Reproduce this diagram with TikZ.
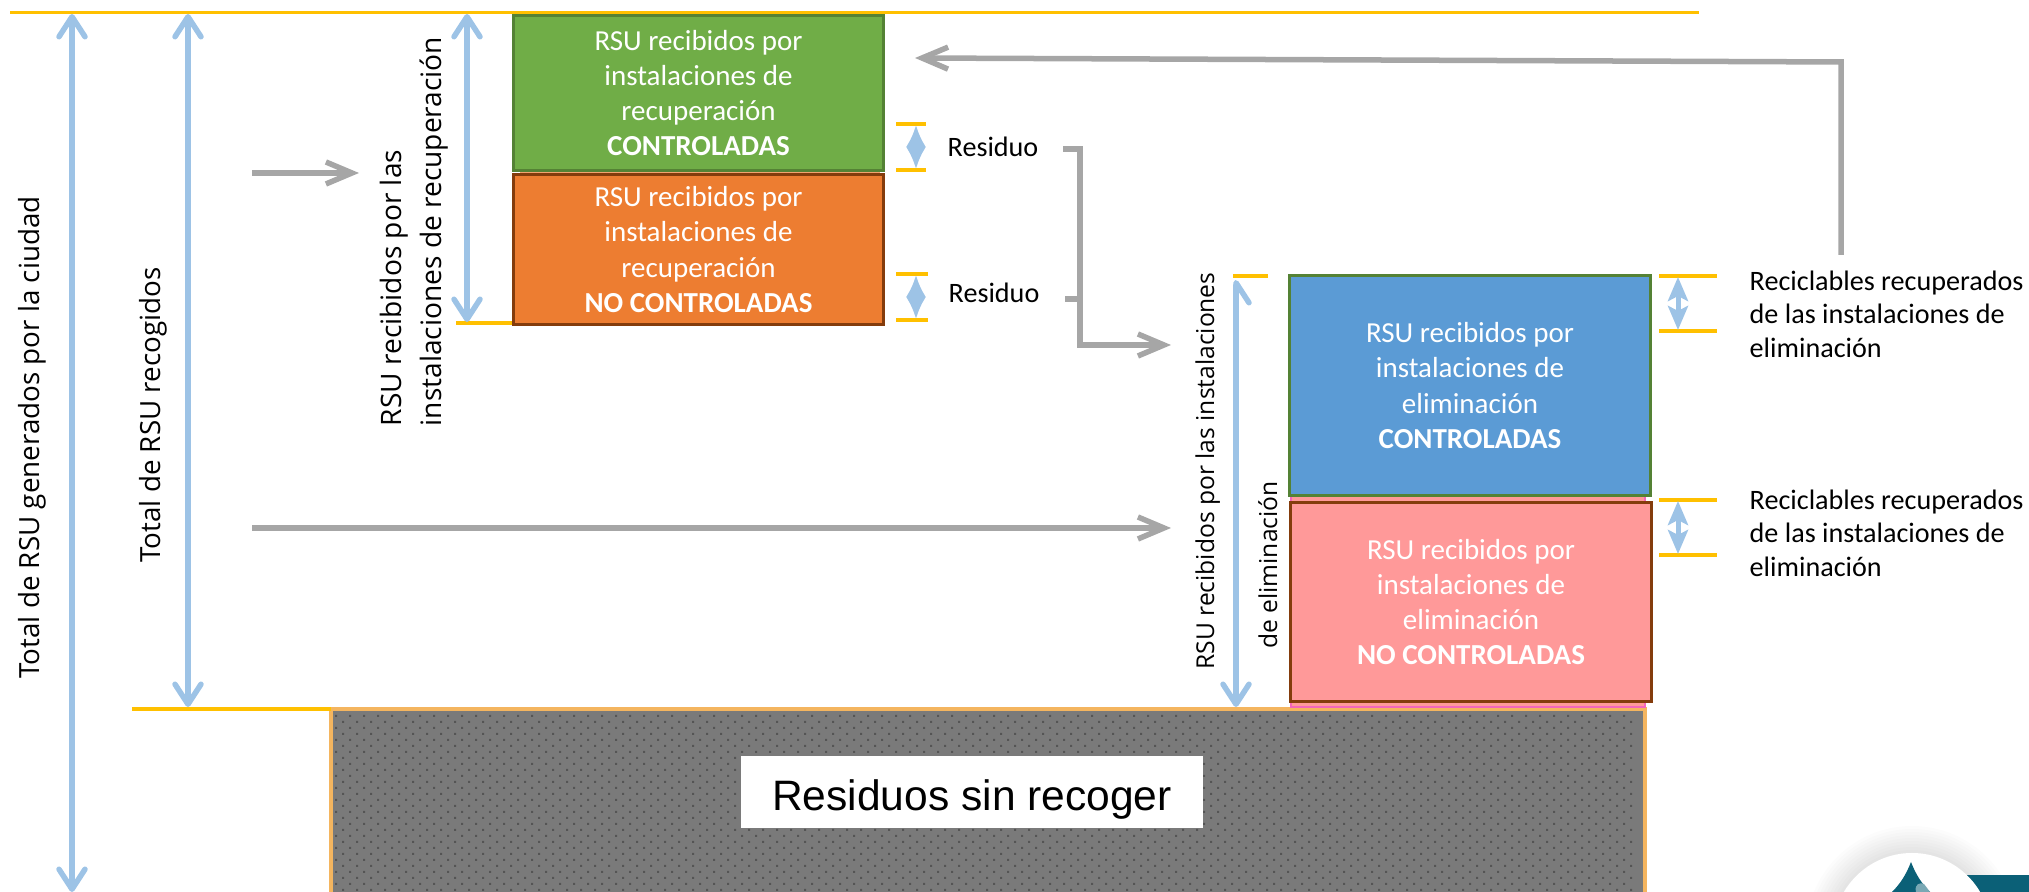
\documentclass[tikz,border=0pt]{standalone}
\usepackage{fontspec}
\setmainfont{Carlito}
\newfontfamily\arialfont{Liberation Sans}
\newfontfamily\vertfont{Open Sans}
\usetikzlibrary{arrows.meta}
\definecolor{medida}{HTML}{9DC3E6}
\definecolor{flujo}{HTML}{A6A6A6}
\definecolor{limite}{HTML}{FFC000}
\definecolor{borde}{HTML}{548235}
\definecolor{bordeB}{HTML}{843C0C}
\definecolor{logoT}{HTML}{0B6077}
\definecolor{cajaV}{HTML}{70AD47}
\definecolor{cajaN}{HTML}{ED7D31}
\definecolor{cajaA}{HTML}{5B9BD5}
\definecolor{cajaR}{HTML}{FF9999}
\definecolor{fondoG}{HTML}{7A7A7A}
\definecolor{puntoG}{HTML}{555555}
\definecolor{bordeG}{HTML}{F4B55F}

\begin{document}
\begin{tikzpicture}[x=0.01cm,y=-0.01cm]
  \tikzstyle{Caja}=[draw,line width=0.03cm,minimum width=3.7cm,align=center,text=white,
                    font=\fontsize{8.25}{10}\selectfont]
  \tikzstyle{Etiqueta}=[inner sep=0,font=\fontsize{8}{9.6}\selectfont,align=left]
  \tikzstyle{Vertical}=[inner sep=0,rotate=90,font=\vertfont\fontsize{7.9}{10}\selectfont,align=left]
  \tikzstyle{Medida}=[medida,line width=0.055cm,line cap=round,
                      {Straight Barb[length=0.2cm,width=0.26cm,round]}-{Straight Barb[length=0.2cm,width=0.26cm,round]}]
  \tikzstyle{MedidaD}=[medida,line width=0.055cm,line cap=round,
                      {Straight Barb[length=0.2cm,width=0.26cm,round,harpoon,swap]}-{Straight Barb[length=0.2cm,width=0.26cm,round]}]
  \tikzstyle{MedidaR}=[medida,line width=0.03cm,
                      {Latex[length=0.22cm,width=0.2cm]}-{Latex[length=0.22cm,width=0.2cm]}]
  \tikzstyle{MedidaC}=[medida,line width=0.05cm,
                      {Stealth[length=0.24cm,width=0.2cm,inset=0.05cm]}-{Stealth[length=0.24cm,width=0.2cm,inset=0.05cm]}]
  \tikzstyle{Flujo}=[flujo,line width=0.055cm,-{Straight Barb[length=0.26cm,width=0.22cm]}]
  \tikzstyle{Limite}=[limite,line width=0.035cm]
  \clip (0,0) rectangle (2029,892);
  % logo
  \foreach \r in {82,85,...,106}
    \fill[black,opacity=0.012] (1912,932) circle (\r);
  \fill[logoT] (1960,875) rectangle (2029,892);
  \fill[white] (1912,932) circle (79);
  \fill[logoT] (1911,862) .. controls (1906,875) and (1900,884) .. (1892,892) -- (1930,892) .. controls (1922,884) and (1916,875) .. (1911,862);
  \fill[logoT!55!white] (1916,892) .. controls (1914,884) and (1920,882) .. (1924,884) -- (1930,892);
  % sin recoger
  \fill[fondoG,draw=bordeG,line width=0.035cm] (331,709) rectangle (1645,900);
  \fill[puntoG]
    \foreach \i in {0,...,92} { \foreach \j in {0,...,15} {
      (335+14*\i,715+12*\j) rectangle +(2,2) (342+14*\i,721+12*\j) rectangle +(2,2) } };
  \node[fill=white,minimum width=4.62cm,minimum height=0.71cm,inner sep=0,text height=0.36cm,text depth=0,font=\arialfont\fontsize{12.1}{14}\selectfont] (sinrecoger) at (972,792) {Residuos sin recoger};
  % fondos
  \fill[cajaN!70!white] (520,168) rectangle (880,180);
  \fill[cajaR,draw=magenta!60!white,line width=0.02cm] (1291,495) rectangle (1645,707);
  % cajas
  \node[Caja,fill=cajaV,draw=borde,minimum height=1.55cm] (recCtrl) at (698.5,93) {RSU recibidos por\\instalaciones de\\recuperación\\\textbf{CONTROLADAS}};
  \node[Caja,fill=cajaN,draw=bordeB,minimum height=1.43cm] (recNo) at (698.5,249.5) {RSU recibidos por\\instalaciones de\\recuperación\\\textbf{NO CONTROLADAS}};
  \node[Caja,fill=cajaA,draw=borde,minimum width=3.61cm,minimum height=2.2cm] (elimCtrl) at (1470,385.5) {RSU recibidos por\\instalaciones de\\eliminación\\\textbf{CONTROLADAS}};
  \node[Caja,fill=cajaR,draw=bordeB,minimum width=3.61cm,minimum height=1.99cm] (elimNo) at (1471,602) {RSU recibidos por\\instalaciones de\\eliminación\\\textbf{NO CONTROLADAS}};
  % rotulos
  \node[Vertical,anchor=base] (totalGen) at (40,437.5) {Total de RSU generados por la ciudad};
  \node[Vertical,anchor=base] (totalRec) at (160,415) {Total de RSU recogidos};
  \node[Vertical,anchor=west,font=\vertfont\fontsize{8}{11.3}\selectfont] (etqRec) at (414,427) {RSU recibidos por las\\instalaciones de recuperación};
  \node[Vertical,anchor=base,font=\vertfont\fontsize{7}{10}\selectfont] (etqElimA) at (1214,471) {RSU recibidos por las instalaciones};
  \node[Vertical,anchor=base,font=\vertfont\fontsize{7}{10}\selectfont] (etqElimB) at (1277,565) {de eliminación};
  \node[Etiqueta,anchor=west] (resA) at (947,147) {Residuo};
  \node[Etiqueta,anchor=west] (resB) at (948,293) {Residuo};
  \node[Etiqueta,anchor=north west] (recA) at (1749,270) {Reciclables recuperados\\de las instalaciones de\\eliminación};
  \node[Etiqueta,anchor=north west] (recB) at (1749,489) {Reciclables recuperados\\de las instalaciones de\\eliminación};
  % limites
  \draw[Limite] (10,12.5) -- (1699,12.5);
  \draw[Limite] (132,709) -- (331,709);
  \draw[Limite] (456,323) -- (512,323);
  \draw[Limite] (1233,276) -- (1268,276);
  \draw[Limite] (896,124) -- (926,124);
  \draw[Limite] (896,170) -- (926,170);
  \draw[Limite] (896,274) -- (928,274);
  \draw[Limite] (896,320) -- (928,320);
  \draw[Limite] (1659,276) -- (1717,276);
  \draw[Limite] (1659,331) -- (1717,331);
  \draw[Limite] (1659,500) -- (1717,500);
  \draw[Limite] (1659,555) -- (1717,555);
  % puntos
  \coordinate (topA) at (72,14);
  \coordinate (botA) at (72,892);
  \coordinate (topB) at (188,14);
  \coordinate (botB) at (188,707);
  \coordinate (topC) at (467,14);
  \coordinate (botC) at (467,322);
  \coordinate (topD) at (1236,280);
  \coordinate (botD) at (1236,707);
  \coordinate (resTopA) at (916,125);
  \coordinate (resBotA) at (916,169);
  \coordinate (resTopB) at (916,275);
  \coordinate (resBotB) at (916,319);
  \coordinate (recTopA) at (1678,277);
  \coordinate (recBotA) at (1678,330);
  \coordinate (recTopB) at (1678,501);
  \coordinate (recBotB) at (1678,554);
  \coordinate (inA) at (252,173);
  \coordinate (outA) at (359,173);
  \coordinate (inB) at (252,528);
  \coordinate (outB) at (1171,528);
  \coordinate (salA) at (1063,149);
  \coordinate (salB) at (1065,299);
  \coordinate (codoA) at (1080,149);
  \coordinate (codoB) at (1080,299);
  \coordinate (codoC) at (1080,345);
  \coordinate (llegada) at (1171,345);
  \coordinate (retorno) at (1841,255);
  \coordinate (codoR) at (1841,62);
  \coordinate (fin) at (915,58);
  % medidas
  \draw[Medida] (topA) -- (botA);
  \draw[Medida] (topB) -- (botB);
  \draw[Medida] (topC) -- (botC);
  \draw[MedidaD] (topD) -- (botD);
  \draw[MedidaR] (resTopA) -- (resBotA);
  \draw[MedidaR] (resTopB) -- (resBotB);
  \draw[MedidaC] (recTopA) -- (recBotA);
  \draw[MedidaC] (recTopB) -- (recBotB);
  % flujos
  \draw[Flujo] (inA) -- (outA);
  \draw[Flujo] (inB) -- (outB);
  \draw[flujo,line width=0.055cm] (salB) -- (codoB);
  \draw[Flujo] (salA) -- (codoA) -- (codoC) -- (llegada);
  \draw[Flujo] (retorno) -- (codoR) -- (fin);
\end{tikzpicture}
\end{document}
